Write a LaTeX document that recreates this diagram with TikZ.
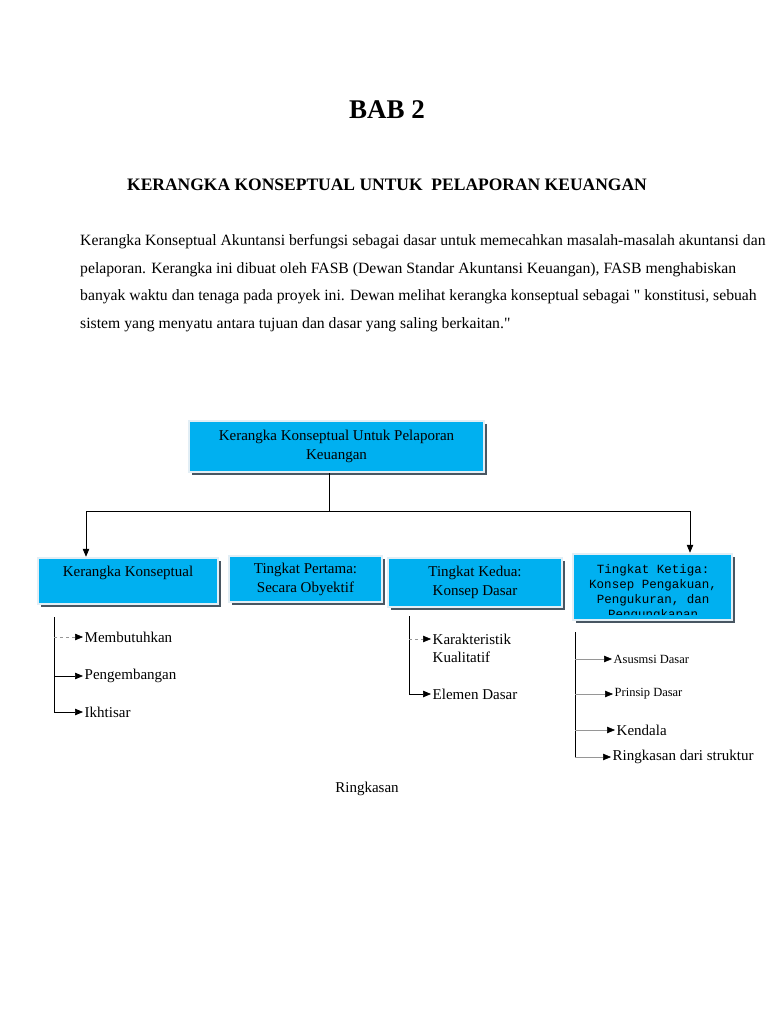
\documentclass[tikz,border=0pt]{standalone}
\usepackage{fontspec}
\setmainfont{Liberation Serif}[Ligatures=TeXOff]
\setmonofont{Liberation Mono}
\usetikzlibrary{arrows.meta,shadows}
\definecolor{boxcyan}{RGB}{0,176,240}
\definecolor{boxedge}{RGB}{226,238,245}
\definecolor{boxshade}{RGB}{72,86,98}
\definecolor{softline}{RGB}{150,150,150}
\tikzset{
    tierbox/.style={fill=boxcyan,draw=boxedge,line width=2.5pt,
        general shadow={fill=boxshade,shadow xshift=2.5pt,shadow yshift=-2.5pt},
        inner sep=0pt,align=center,font=\fontsize{15}{19}\selectfont},
    trunk/.style={line width=0.7pt},
    link/.style={-{Triangle[length=8pt,width=6.5pt,color=black]},line width=0.7pt},
    faintlink/.style={link,draw=softline,line width=0.5pt},
    para/.style={anchor=west,inner sep=0pt,font=\fontsize{15.7}{18}\selectfont},
    item/.style={anchor=west,inner sep=1.5pt,align=left,font=\fontsize{15}{18}\selectfont},
}
\begin{document}
\begin{tikzpicture}[x=1pt,y=-1pt]
    \useasboundingbox (0,0) rectangle (768,1024);
    \fill[white] (0,0) rectangle (768,1024);
% Heading
    \node[font=\bfseries\fontsize{27}{32}\selectfont] (bab) at (387,110) {BAB 2};
    \node[font=\bfseries\fontsize{17.5}{20}\selectfont] (judul) at (387,185)
        {KERANGKA KONSEPTUAL UNTUK\ \ PELAPORAN KEUANGAN};
% Paragraph
    \foreach \i/\y/\t in {1/242/{Kerangka Konseptual Akuntansi berfungsi sebagai dasar untuk memecahkan masalah-masalah akuntansi dan},
        2/270/{pelaporan. Kerangka ini dibuat oleh FASB (Dewan Standar Akuntansi Keuangan), FASB menghabiskan},
        3/297/{banyak waktu dan tenaga pada proyek ini. Dewan melihat kerangka konseptual sebagai " konstitusi, sebuah},
        4/325/{sistem yang menyatu antara tujuan dan dasar yang saling berkaitan."}}{
        \node[para] (par-\i) at (80,\y) {\t};
    }
% Boxes
    % Top
    \node[tierbox,minimum width=295,minimum height=51] (frame) at (336.5,446.5)
        {Kerangka Konseptual Untuk Pelaporan\\Keuangan};
    % Row
    \node[tierbox,minimum width=180,minimum height=46] (kk) at (128,581)
        {Kerangka Konseptual\\\mbox{}};
    \node[tierbox,minimum width=153,minimum height=46] (t1) at (305.5,579)
        {Tingkat Pertama:\\Secara Obyektif};
    \node[tierbox,minimum width=174,minimum height=49] (t2) at (475,582.5)
        {Tingkat Kedua:\\Konsep Dasar};
    \node[tierbox,minimum width=159,minimum height=66] (t3) at (652.5,587) {};
    \begin{scope}
        \clip ([shift={(2.5,2.5)}]t3.north west) rectangle ([shift={(-2.5,-6.5)}]t3.south east);
        \node[align=center,inner sep=0pt,font=\ttfamily\fontsize{12.5}{15}\selectfont] (t3text) at (653,592.5)
            {Tingkat Ketiga:\\Konsep Pengakuan,\\Pengukuran, dan\\Pengungkapan};
    \end{scope}
% Connectors
    \coordinate (split) at (329,511);
    \coordinate (leftend) at (86,511);
    \coordinate (rightend) at (690,511);
    \draw[trunk] (frame.south -| split) -- (split);
    \draw[trunk] (leftend) -- (rightend);
    \draw[link] (leftend) -- (leftend |- kk.north);
    \draw[link] (rightend) -- (rightend |- t3.north);
% Kerangka Konseptual
    \foreach \i/\y/\t in {1/637/Membutuhkan,2/676/Pengembangan,3/712/Ikhtisar}{
        \node[item] (kk-\i) at (83,\y) {\t};
    }
    \coordinate (kkspine) at (54,617);
    \draw[trunk] (kkspine) -- (kkspine |- kk-3.west);
    \draw[faintlink,dashed] (kkspine |- kk-1.west) -- (kk-1.west);
    \foreach \i in {2,3}{
        \draw[link] (kkspine |- kk-\i.west) -- (kk-\i.west);
    }
% Tingkat Kedua
    \node[item] (kd-1) at (431,648) {Karakteristik\\Kualitatif};
    \node[item] (kd-2) at (431,694) {Elemen Dasar};
    \coordinate (kdspine) at (409,616);
    \coordinate (kdtip) at ([yshift=9pt]kd-1.west);
    \draw[trunk] (kdspine) -- (kdspine |- kd-2.west);
    \draw[faintlink,dashed] (kdspine |- kdtip) -- (kdtip);
    \draw[link] (kdspine |- kd-2.west) -- (kd-2.west);
% Tingkat Ketiga
    \node[item,font=\fontsize{12.5}{14}\selectfont] (kt-1) at (612,659) {Asusmsi Dasar};
    \node[item,font=\fontsize{12.5}{14}\selectfont] (kt-2) at (613,694) {Prinsip Dasar};
    \node[item] (kt-3) at (615,730) {Kendala};
    \node[item] (kt-4) at (611,757) {Ringkasan dari struktur};
    \coordinate (ktspine) at (575,632);
    \draw[trunk] (ktspine) -- (ktspine |- kt-4.west);
    \foreach \i in {1,...,4}{
        \draw[faintlink] (ktspine |- kt-\i.west) -- (kt-\i.west);
    }
% Closing
    \node[font=\fontsize{15}{18}\selectfont] (ringkas) at (367,789) {Ringkasan};
\end{tikzpicture}
\end{document}
